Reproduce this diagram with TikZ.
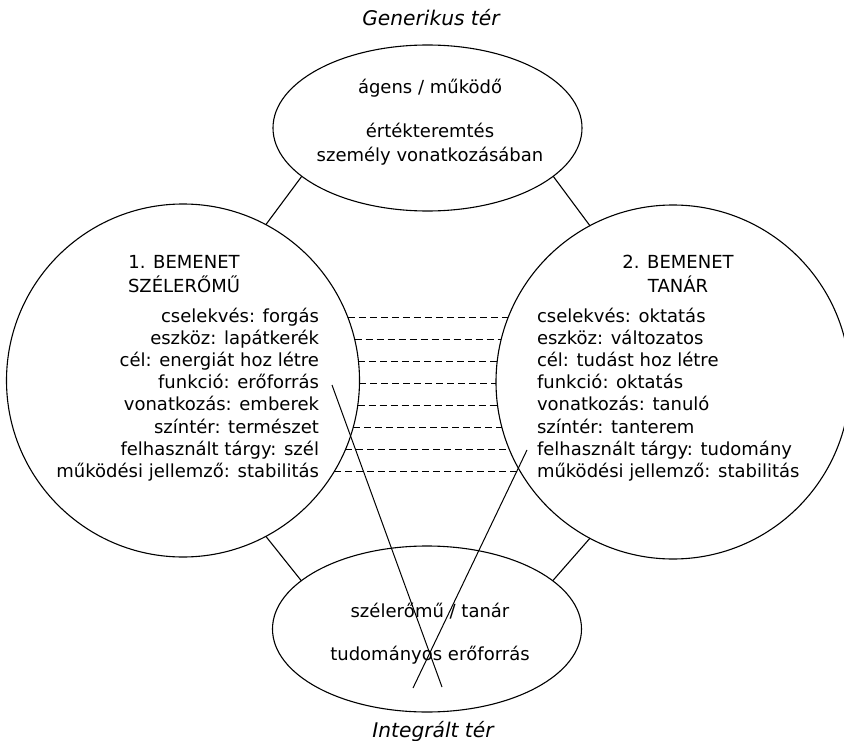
\documentclass[tikz,border=0pt]{standalone}
\usepackage{fontspec}
\setmainfont{DejaVu Sans}
\usetikzlibrary{shapes.geometric}
\begin{document}
\begin{tikzpicture}[x=1pt,y=-1pt,
  line width=1.1pt,
  every node/.style={font=\fontsize{18}{22}\selectfont, inner sep=0pt, outer sep=0pt},
  space/.style={draw, ellipse, minimum width=309pt, minimum height=166pt},
  inputspace/.style={draw, circle, minimum size=353pt},
  caption/.style={font=\fontsize{20.2}{24}\selectfont\itshape, anchor=base},
  label/.style={anchor=base},
  matchline/.style={dash pattern=on 7pt off 4pt},
  crossline/.style={line width=1pt}
]
\useasboundingbox (0,0) rectangle (844,741);

% the four spaces of the blend
\node[space] (gen) at (427.5,128) {};
\node[space] (int) at (427,629) {};
\node[inputspace] (in1) at (183,380.5) {};
\node[inputspace, minimum size=354pt] (in2) at (673,382) {};

% links between the spaces
\draw (in1.62) -- (gen.201);
\draw (in2.118) -- (gen.339);
\draw (in1.298) -- (int.159);
\draw (in2.242) -- (int.21);

% captions
\node[caption] (gentitle) at (431,26) {Generikus tér};
\node[caption] (inttitle) at (433,737) {Integrált tér};

% generic space
\node[label] (g1) at (430,94) {ágens / működő};
\node[label] (g2) at (430,138) {értékteremtés};
\node[label] (g3) at (430,162) {személy vonatkozásában};

% blended space
\node[label] (b1) at (430,617) {szélerőmű / tanár};
\node[label] (b2) at (430,660) {tudományos erőforrás};

% input headings
\node[label] (h1a) at (184,269) {1. BEMENET};
\node[label] (h1b) at (184,292) {SZÉLERŐMŰ};
\node[label] (h2a) at (678,269) {2. BEMENET};
\node[label] (h2b) at (678,292) {TANÁR};

% input 1 attributes
\foreach \t [count=\i from 0] in {cselekvés: forgás, eszköz: lapátkerék,
  cél: energiát hoz létre, funkció: erőforrás, vonatkozás: emberek,
  színtér: természet, felhasznált tárgy: szél, működési jellemző: stabilitás}
  \node[anchor=base east] (l\i) at (319,322.7+22.06*\i) {\t};

% input 2 attributes
\foreach \t [count=\i from 0] in {cselekvés: oktatás, eszköz: változatos,
  cél: tudást hoz létre, funkció: oktatás, vonatkozás: tanuló,
  színtér: tanterem, felhasznált tárgy: tudomány, működési jellemző: stabilitás}
  \node[anchor=base west] (r\i) at (537,322.7+22.06*\i) {\t};

% cross-space mappings, from circle edge to circle edge
\foreach \i in {0,...,7} {
  \pgfmathsetmacro\yy{317.3+22.06*\i}
  \pgfmathsetmacro\dl{\yy-380.5}
  \pgfmathsetmacro\xl{183+10*sqrt((17.65-\dl/10)*(17.65+\dl/10))}
  \pgfmathsetmacro\dr{\yy-382}
  \pgfmathsetmacro\xr{673-10*sqrt((17.7-\dr/10)*(17.7+\dr/10))}
  \coordinate (ml\i) at (\xl,\yy);
  \coordinate (mr\i) at (\xr,\yy);
  \draw[matchline] (ml\i) -- (mr\i);
}

% projections into the blend
\coordinate (pa1) at (332,385);
\coordinate (pa2) at (442,687);
\coordinate (pb1) at (527,450);
\coordinate (pb2) at (413,688);
\draw[crossline] (pa1) -- (pa2);
\draw[crossline] (pb1) -- (pb2);
\end{tikzpicture}
\end{document}
